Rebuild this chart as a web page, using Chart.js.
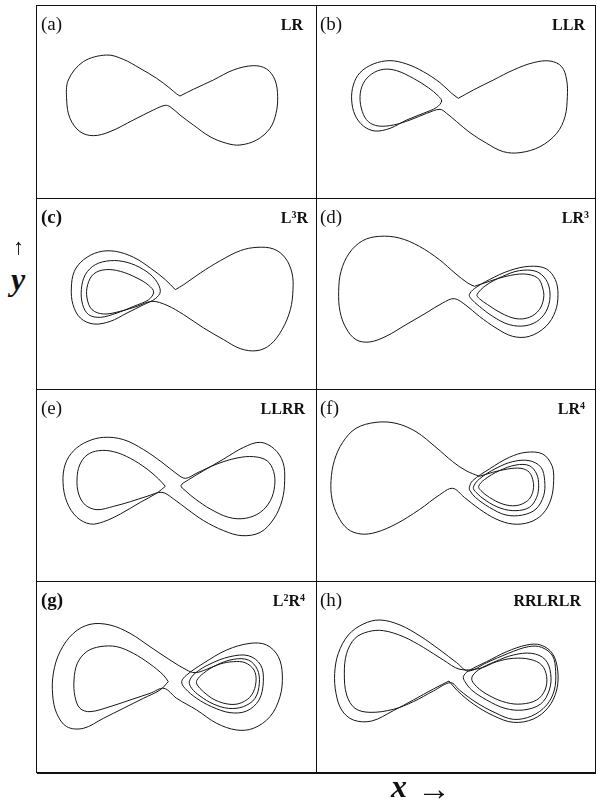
<!DOCTYPE html>
<html>
<head>
<meta charset="utf-8">
<script src="https://cdn.jsdelivr.net/npm/chart.js@4.4.0/dist/chart.umd.min.js"></script>
<style>
  html, body { margin: 0; padding: 0; background: #fff; }
  body { width: 597px; height: 806px; position: relative; overflow: hidden;
         font-family: "Liberation Serif", "DejaVu Serif", serif; color: #111; }
  .panel { position: absolute; }
  .panel canvas { position: absolute; left: 0; top: 0; }
  .tag { position: absolute; left: 4px; top: 9px; font-size: 19px; line-height: 19px; white-space: nowrap; }
  .code { position: absolute; top: 12px; font-size: 16px; line-height: 16px; font-weight: bold; white-space: nowrap; }
  .code sup { font-size: 10px; line-height: 10px; vertical-align: 5px; }
  .rule { position: absolute; background: #111; z-index: 5; }
  .axis { position: absolute; line-height: 1; white-space: nowrap; }
</style>
</head>
<body>
<script>
// x-y projections of the periodic orbits, one list of (x, y) samples per orbit
const orbitLR = [
  [9,15],[49,35],[109,63],[169,93],[229,106],[269,96],[294,63],[302,13],[297,-37],[279,-82],
  [239,-117],[189,-132],[149,-127],[99,-107],[49,-72],[9,-42],[-21,-17],[-36,-13],[-71,-27],
  [-131,-57],[-201,-92],[-251,-104],[-291,-92],[-321,-52],[-331,3],[-326,63],[-281,118],
  [-211,138],[-161,125],[-111,98],[-61,68],[-21,38],[-1,21],[9,15]
];
const orbitLLR = [
  [7,8],[52,33],[112,63],[172,93],[232,115],[282,120],[317,103],[332,63],[334,13],[327,-47],
  [302,-97],[252,-137],[192,-155],[142,-152],[92,-127],[42,-95],[2,-62],[-28,-37],[-48,-25],
  [-88,-37],[-138,-57],[-188,-72],[-233,-75],[-263,-62],[-281,-32],[-288,13],[-278,53],
  [-253,81],[-218,95],[-178,91],[-128,68],[-83,40],[-53,15],[-43,0],
  [-58,-19],[-98,-37],[-148,-57],[-198,-82],[-243,-90],[-278,-75],[-303,-42],[-313,3],
  [-308,48],[-288,85],[-248,111],[-198,121],[-148,111],[-98,88],[-48,55],[-13,23],[7,8]
];
const orbitL3R = [
  [-5,13],[20,28],[70,63],[130,100],[190,130],[240,140],[290,135],[325,108],[345,63],[348,13],
  [340,-47],[315,-107],[280,-152],[240,-170],[190,-164],[140,-137],[80,-102],[20,-62],[-30,-34],[-75,-22],
  [-120,-37],[-170,-52],[-220,-60],[-255,-47],[-270,-12],[-268,28],[-250,60],[-215,73],[-170,68],
  [-120,48],[-85,26],[-70,6],
  [-85,-17],[-130,-37],[-180,-57],[-230,-70],[-265,-62],[-283,-32],[-287,13],[-275,58],[-245,88],
  [-200,100],[-150,95],[-100,73],[-65,43],[-50,8],
  [-65,-14],[-100,-32],[-150,-57],[-200,-82],[-250,-90],[-290,-72],[-312,-32],[-317,18],[-308,68],
  [-280,103],[-235,126],[-185,128],[-130,110],[-80,78],[-35,43],[-5,13]
];
const orbitLR3 = [
  [55,23],[100,38],[150,53],[205,60],[245,48],[260,18],[263,-12],[250,-47],[220,-70],[180,-74],
  [135,-57],[95,-32],[70,-14],[63,-2],
  [90,26],[140,53],[190,70],[240,68],[270,43],[282,3],[275,-42],[250,-77],[210,-95],[160,-92],
  [110,-67],[70,-37],[45,-14],[40,-2],
  [55,16],[100,43],[160,70],[220,83],[270,76],[298,43],[306,-2],[298,-52],[270,-97],[220,-127],
  [170,-127],[120,-102],[70,-67],[30,-34],[-5,-14],
  [-40,-27],[-90,-57],[-150,-92],[-210,-127],[-260,-144],[-300,-137],[-330,-102],[-348,-52],
  [-352,8],[-345,68],[-320,123],[-280,160],[-230,173],[-170,168],[-110,143],[-50,103],[0,60],
  [35,33],[55,23]
];
const orbitLLRR = [
  [-35,-4],[-60,-24],[-110,-52],[-170,-87],[-220,-110],[-260,-117],[-300,-97],[-330,-52],[-342,8],
  [-335,63],[-310,103],[-270,130],[-220,143],[-160,136],[-100,106],[-45,68],[0,33],[25,20],
  [60,36],[120,63],[180,81],[230,85],[270,73],[290,40],[293,-2],[280,-47],[250,-82],[205,-100],
  [155,-97],[100,-72],[55,-42],[25,-17],[12,-2],
  [35,16],[80,43],[140,78],[200,113],[250,128],[292,108],[318,68],[323,13],[315,-47],[290,-102],
  [250,-142],[195,-152],[140,-137],[80,-107],[30,-72],[-10,-42],[-45,-22],
  [-90,-34],[-140,-50],[-190,-64],[-240,-74],[-275,-60],[-295,-27],[-300,18],[-292,60],[-270,90],
  [-235,103],[-190,100],[-140,80],[-90,48],[-55,18],[-35,-4]
];
const orbitLR4 = [
  [70,26],[110,38],[155,48],[195,50],[220,38],[232,8],[230,-22],[215,-47],[180,-62],[140,-57],
  [100,-37],[75,-17],[68,-4],
  [85,16],[130,43],[180,60],[220,58],[242,33],[248,-2],[242,-37],[220,-67],[180,-77],[135,-70],
  [90,-47],[60,-22],[52,-7],
  [70,18],[120,50],[170,70],[220,73],[255,53],[266,13],[263,-32],[240,-72],[200,-90],[150,-90],
  [100,-67],[58,-37],[42,-17],[40,-7],
  [50,13],[100,48],[160,83],[210,98],[260,93],[288,58],[293,13],[285,-42],[260,-87],[220,-112],
  [170,-117],[120,-102],[70,-72],[25,-37],[-10,-10],
  [-50,-30],[-110,-74],[-180,-117],[-240,-142],[-285,-147],[-325,-132],[-355,-92],[-372,-42],
  [-375,13],[-365,73],[-340,128],[-300,170],[-240,188],[-180,185],[-120,160],[-60,113],[-10,70],
  [30,43],[70,26]
];
const orbitL2R4 = [
  [-26,-14],[-51,-39],[-101,-64],[-161,-94],[-221,-124],[-281,-154],[-331,-149],[-361,-109],
  [-373,-54],[-371,11],[-351,76],[-311,131],[-261,158],[-201,156],[-141,131],[-81,91],[-21,51],
  [29,21],[54,13],
  [89,23],[129,39],[169,46],[204,43],[231,21],[237,-14],[224,-54],[194,-77],[159,-82],[114,-69],
  [79,-44],[61,-24],[59,-11],
  [79,11],[119,36],[169,53],[214,51],[241,23],[247,-19],[234,-64],[199,-89],[154,-94],[109,-81],
  [69,-57],[44,-34],[37,-14],
  [54,11],[99,39],[159,61],[214,64],[251,36],[259,-14],[246,-69],[209,-102],[159,-107],[104,-89],
  [59,-64],[24,-34],[14,-14],
  [29,6],[79,41],[149,81],[219,101],[269,96],[304,61],[316,6],[309,-59],[279,-119],[229,-154],
  [179,-159],[119,-139],[59,-99],[-1,-64],[-39,-34],
  [-81,-49],[-141,-69],[-201,-89],[-261,-104],[-291,-94],[-306,-59],[-309,-9],[-299,41],[-271,76],
  [-231,91],[-181,91],[-131,71],[-81,39],[-41,6],[-26,-14]
];
const orbitRRLRLR = [
  [-21,-12],[-68,-36],[-128,-69],[-188,-101],[-253,-132],[-308,-129],[-343,-99],[-360,-49],
  [-364,11],[-353,71],[-323,126],[-278,159],[-228,171],[-168,156],[-108,123],[-48,81],[2,43],
  [37,18],[92,43],[157,71],[217,91],[257,89],[290,63],[299,16],[295,-39],[272,-84],[227,-117],
  [172,-127],[117,-107],[57,-74],[10,-39],[-16,-17],
  [-68,-42],[-128,-74],[-188,-97],[-258,-106],[-303,-94],[-328,-54],[-335,11],[-328,71],
  [-303,116],[-263,136],[-218,139],[-158,121],[-98,89],[-38,51],[12,23],
  [72,26],[122,46],[172,56],[222,53],[257,36],[272,1],[267,-39],[242,-69],[197,-81],[152,-77],
  [102,-57],[62,-29],[47,-4],
  [67,21],[117,46],[172,66],[227,71],[267,53],[284,11],[280,-39],[254,-81],[202,-99],[147,-94],
  [92,-69],[47,-39],[27,-14],[22,1],
  [37,18],[92,46],[152,76],[212,96],[254,96],[289,71],[305,21],[302,-39],[277,-91],[232,-126],
  [172,-136],[112,-116],[52,-81],[4,-41],[-21,-12]
];

const panelTags = ['(a)', '(b)', '(c)', '(d)', '(e)', '(f)', '(g)', '(h)'];
const panelCodes = ['LR', 'LLR', 'L<sup>3</sup>R', 'LR<sup>3</sup>', 'LLRR', 'LR<sup>4</sup>',
                    'L<sup>2</sup>R<sup>4</sup>', 'RRLRLR'];
const orbits = [orbitLR, orbitLLR, orbitL3R, orbitLR3, orbitLLRR, orbitLR4, orbitL2R4, orbitRRLRLR];

// grid geometry
const colLeft = [37, 316], colWidth = [279, 280];
const rowTop = [5, 198, 389, 581], rowHeight = [193, 191, 192, 192];
const codeRight = [13, 11, 8, 7, 11, 11, 11, 15];
const boldTag = [false, false, true, false, false, false, true, false];

orbits.forEach(function (orbit, i) {
  const col = i % 2, row = Math.floor(i / 2);
  const w = colWidth[col], h = rowHeight[row];

  const box = document.createElement('div');
  box.className = 'panel';
  box.style.left = colLeft[col] + 'px';
  box.style.top = rowTop[row] + 'px';
  box.style.width = w + 'px';
  box.style.height = h + 'px';

  const canvas = document.createElement('canvas');
  canvas.width = w;
  canvas.height = h;
  box.appendChild(canvas);

  const tag = document.createElement('div');
  tag.className = 'tag';
  tag.textContent = panelTags[i];
  if (boldTag[i]) tag.style.fontWeight = 'bold';
  box.appendChild(tag);

  const code = document.createElement('div');
  code.className = 'code';
  code.innerHTML = panelCodes[i];
  code.style.right = codeRight[i] + 'px';
  box.appendChild(code);

  document.body.appendChild(box);

  new Chart(canvas, {
    type: 'scatter',
    data: {
      datasets: [{
        data: orbit.map(function (p) { return { x: p[0], y: p[1] }; }),
        showLine: true,
        borderColor: '#161616',
        borderWidth: 1,
        pointRadius: 0,
        tension: 0.35
      }]
    },
    options: {
      responsive: false,
      animation: false,
      events: [],
      layout: { padding: 0 },
      scales: {
        x: { type: 'linear', display: false, min: -420, max: w * 3 - 420 },
        y: { type: 'linear', display: false, min: 288 - h * 3, max: 288 }
      },
      plugins: { legend: { display: false }, tooltip: { enabled: false } }
    }
  });
});

// frame and dividers
function rule(x, y, w, h) {
  const d = document.createElement('div');
  d.className = 'rule';
  d.style.left = x + 'px'; d.style.top = y + 'px';
  d.style.width = w + 'px'; d.style.height = h + 'px';
  document.body.appendChild(d);
}
rule(37, 5, 559, 1);
rule(37, 772, 559, 2);
rule(36, 5, 1, 768);
rule(595, 5, 1, 768);
rule(316, 5, 1, 768);
rowTop.slice(1).forEach(function (y) { rule(37, y, 559, 1); });

// axis captions
function caption(html, x, y, css) {
  const d = document.createElement('div');
  d.className = 'axis';
  d.innerHTML = html;
  d.style.left = x + 'px'; d.style.top = y + 'px';
  Object.assign(d.style, css);
  document.body.appendChild(d);
}
caption('\u2191', 13, 236, { fontSize: '22px' });
caption('y', 11, 263, { fontSize: '32px', fontWeight: 'bold', fontStyle: 'italic' });
caption('x', 391, 770, { fontSize: '32px', fontWeight: 'bold', fontStyle: 'italic' });
caption('\u2192', 417, 772, { fontSize: '34px' });
</script>
</body>
</html>
